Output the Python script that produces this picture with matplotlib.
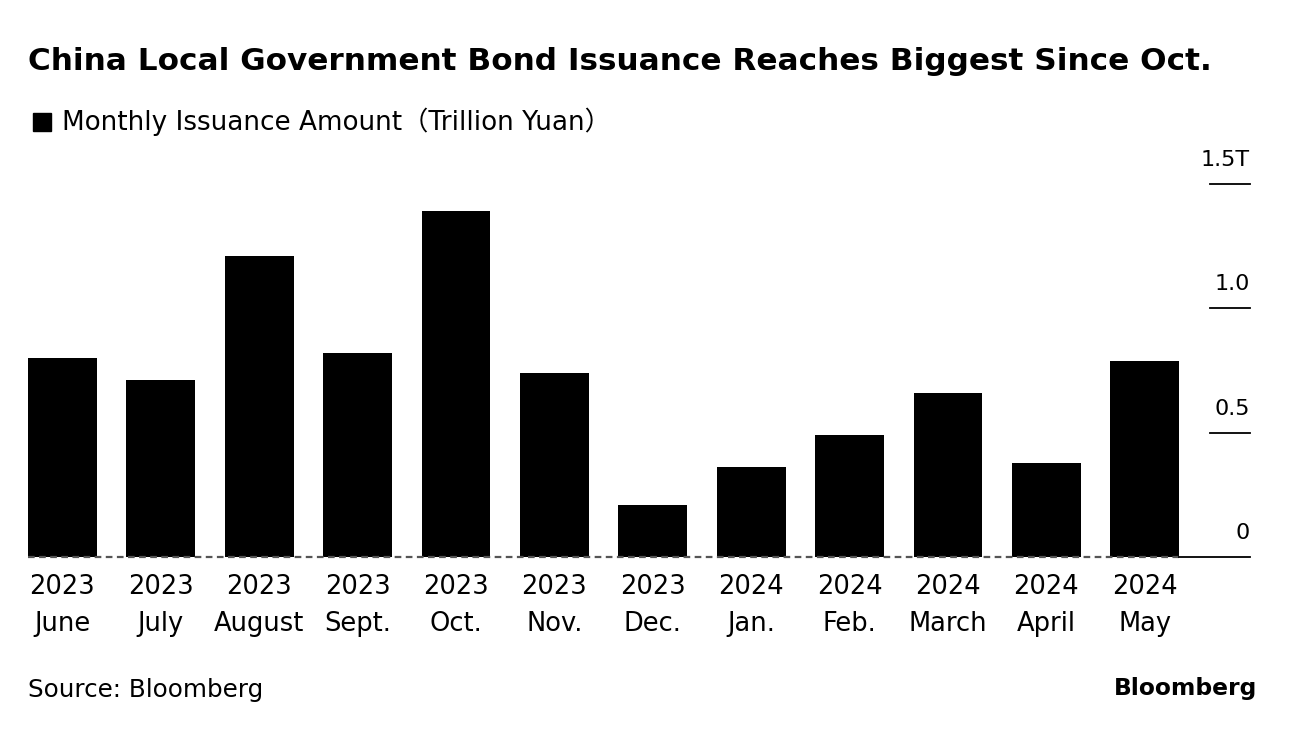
import numpy as np
import matplotlib.pyplot as plt
from matplotlib.patches import Rectangle

plt.rcParams['font.family'] = ['DejaVu Sans', 'Noto Sans CJK SC']

years = ["2023"] * 7 + ["2024"] * 5
months = ["June", "July", "August", "Sept.", "Oct.", "Nov.", "Dec.",
          "Jan.", "Feb.", "March", "April", "May"]
issuance = [0.80, 0.71, 1.21, 0.82, 1.39, 0.74, 0.21, 0.36, 0.49, 0.66, 0.38, 0.79]
yticks = [0, 0.5, 1.0, 1.5]
ytick_labels = ["0", "0.5", "1.0", "1.5T"]

W, H = 1296, 732
fig = plt.figure(figsize=(W / 100, H / 100), dpi=100)
ax = fig.add_axes([28 / W, (H - 557) / H, (1250 - 28) / W, (557 - 184) / H])

x = np.arange(len(months))
ax.bar(x, issuance, width=0.70, color="black", zorder=2)
ax.set_xlim(-0.35, 12.07)
ax.set_ylim(0, 1.5)
for s in ax.spines.values():
    s.set_visible(False)
ax.set_yticks([])
ax.set_xticks(x)
ax.set_xticklabels([f"{y}\n{m}" for y, m in zip(years, months)], fontsize=18.5,
                   linespacing=1.55)
ax.tick_params(axis="x", length=0, pad=12)

# baseline: dashed under bars, solid to the right
ax.plot([-0.35, 11.35], [0, 0], color="#555555", lw=1.6, ls=(0, (3, 2)), zorder=3,
        clip_on=False)
ax.plot([11.35, 12.07], [0, 0], color="black", lw=1.3, zorder=3, clip_on=False)

# right-side tick marks with labels above
for v, lab in zip(yticks, ytick_labels):
    if v > 0:
        ax.plot([11.66, 12.07], [v, v], color="black", lw=1.3, clip_on=False)
    ax.annotate(lab, xy=(12.07, v), xytext=(0, 10), textcoords="offset points",
                ha="right", va="bottom", fontsize=16, annotation_clip=False)

fig.text(28 / W, 1 - 62 / H, "China Local Government Bond Issuance Reaches Biggest Since Oct.",
         fontsize=22.4, fontweight="bold", va="center", ha="left")
fig.patches.append(Rectangle((33 / W, 1 - 131 / H), 18 / W, 18 / H, color="black",
                             transform=fig.transFigure, figure=fig))
fig.text(62 / W, 1 - 122 / H, "Monthly Issuance Amount（Trillion Yuan）",
         fontsize=18.9, va="center", ha="left")
fig.text(28 / W, 1 - 690 / H, "Source: Bloomberg", fontsize=17.7, va="center", ha="left")
fig.text(1257 / W, 1 - 688 / H, "Bloomberg", fontsize=16.8, fontweight="bold",
         va="center", ha="right")

fig.savefig("out.png", dpi=100)
